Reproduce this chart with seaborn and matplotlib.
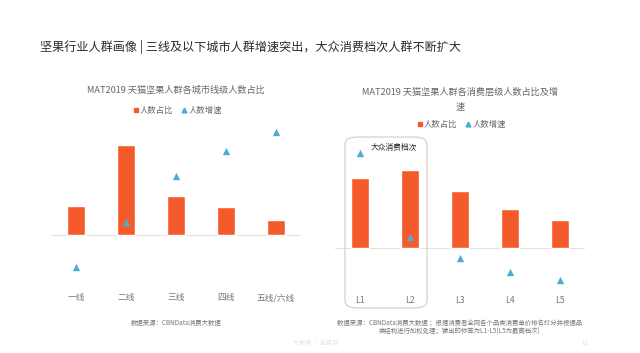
import pandas as pd
import seaborn as sns
import matplotlib.pyplot as plt
from matplotlib.patches import FancyBboxPatch
from matplotlib.lines import Line2D

# city tiers: share of buyers (%) and growth (%)
city_tiers = ["一线", "二线", "三线", "四线", "五线/六线"]
city_share = [14.6, 44.8, 19.6, 13.8, 7.5]
city_growth = [-15.9, 6.3, 29.4, 41.8, 51.2]

# consumption levels
levels = ["L1", "L2", "L3", "L4", "L5"]
level_share = [25.7, 28.8, 21.0, 14.2, 10.3]
level_growth = [35.2, 4.1, -3.7, -8.9, -12.0]

bar_color = "#F45A2A"
tri_color = "#4AAED4"

sns.set_theme(style="white")
plt.rcParams["font.family"] = ["Noto Sans CJK SC", "DejaVu Sans"]

fig = plt.figure(figsize=(6.4, 3.53), dpi=100)
fig.patch.set_facecolor("white")

W, H = 640, 353


def px_axes(x0, y0, x1, y1):
    return fig.add_axes([x0 / W, (H - y1) / H, (x1 - x0) / W, (y1 - y0) / H])


def draw_panel(ax, cats, share, growth, ylim, pad):
    df = pd.DataFrame({"cat": cats, "share": share, "growth": growth})
    sns.barplot(data=df, x="cat", y="share", color=bar_color, width=0.36,
                saturation=1, ax=ax)
    sns.scatterplot(data=df, x="cat", y="growth", marker="^", color=tri_color,
                    s=28, linewidth=0, ax=ax, zorder=3)
    ax.axhline(0, color="#E2E2E2", lw=0.8, zorder=0)
    ax.set_xlim(-0.5, 4.5)
    ax.set_ylim(*ylim)
    ax.set_yticks([])
    ax.set_xlabel("")
    ax.set_ylabel("")
    ax.tick_params(axis="x", length=0, pad=pad, labelsize=6.3, labelcolor="#777777")
    sns.despine(ax=ax, left=True, bottom=True)
    ax.patch.set_alpha(0)


ax1 = px_axes(51, 115, 301, 285)
draw_panel(ax1, city_tiers, city_share, city_growth, (-24.9, 59.7), 6)

ax2 = px_axes(335, 135, 585, 290)
draw_panel(ax2, levels, level_share, level_growth, (-15.7, 41.8), 4.5)

# main title
fig.text(40 / W, 1 - 47 / H, "坚果行业人群画像 | 三线及以下城市人群增速突出，大众消费档次人群不断扩大",
         fontsize=8.7, color="#2A2A2A", va="center", ha="left")

# panel titles
fig.text(176 / W, 1 - 90 / H, "MAT2019 天猫坚果人群各城市线级人数占比",
         fontsize=6.6, color="#666666", ha="center", va="center")
fig.text(460 / W, 1 - 92 / H, "MAT2019 天猫坚果人群各消费层级人数占比及增",
         fontsize=6.6, color="#666666", ha="center", va="center")
fig.text(460 / W, 1 - 107 / H, "速",
         fontsize=6.6, color="#666666", ha="center", va="center")

# legends
handles = [
    Line2D([], [], marker="s", color=bar_color, lw=0, markersize=3),
    Line2D([], [], marker="^", color=tri_color, lw=0, markersize=3.5),
]
labels = ["人数占比", "人数增速"]
for cx, cy in [(177, 110), (461, 124)]:
    fig.legend(handles, labels, loc="center", bbox_to_anchor=(cx / W, 1 - cy / H),
               ncol=2, frameon=False, fontsize=6, labelcolor="#666666",
               handletextpad=0.1, columnspacing=0.9, handlelength=0.8)

# highlight box around L1-L2
box = FancyBboxPatch((345 / W, 1 - 308 / H), 82 / W, 171 / H,
                     boxstyle="round,pad=0,rounding_size=0.02",
                     transform=fig.transFigure, fill=False,
                     edgecolor="#E0C8BC", lw=0.8)
fig.patches.append(box)
fig.text(394 / W, 1 - 148 / H, "大众消费档次", fontsize=5.6, color="#222222",
         ha="center", va="center")

# sources
fig.text(176 / W, 1 - 323 / H, "数据来源：CBNData消费大数据",
         fontsize=4.6, color="#777777", ha="center", va="center")
fig.text(460 / W, 1 - 323 / H,
         "数据来源：CBNData消费大数据 ；根据消费者全网各个品类消费单价排名打分并根据品",
         fontsize=4.6, color="#777777", ha="center", va="center")
fig.text(460 / W, 1 - 332 / H,
         "类结构进行加权处理；输出的标签为L1-L5(L5为最高档次)",
         fontsize=4.6, color="#777777", ha="center", va="center")

# faint footer
fig.text(316 / W, 1 - 343 / H, "大数据 · 全民网", fontsize=4.4, color="#E4E4E4",
         ha="center", va="center")
fig.text(585 / W, 1 - 343 / H, "16", fontsize=4.4, color="#E4E4E4",
         ha="center", va="center")

fig.savefig("out.png", dpi=100)
